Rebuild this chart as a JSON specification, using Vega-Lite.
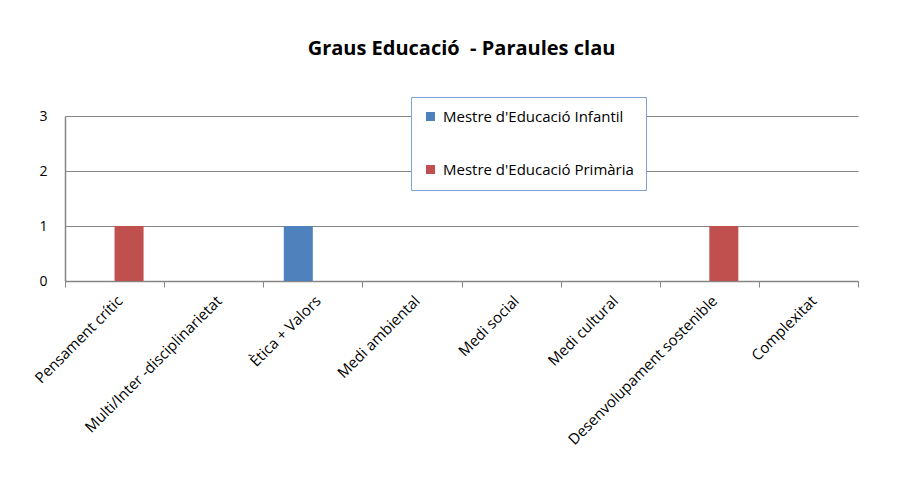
{
  "$schema": "https://vega.github.io/schema/vega-lite/v6.json",
  "width": 793,
  "height": 165,
  "autosize": {"type": "none"},
  "padding": {"left": 65, "top": 116, "right": 44, "bottom": 217},
  "background": "white",
  "title": {
    "text": "Graus Educació\u00a0 - Paraules clau",
    "font": "Open Sans",
    "fontSize": 20,
    "fontWeight": "bold",
    "color": "black",
    "anchor": "middle",
    "offset": 38
  },
  "config": {
    "view": {"stroke": null},
    "font": "Open Sans"
  },
  "data": {
    "values": [
      {"categoria": "Pensament crític", "grau": "Mestre d'Educació Infantil", "valor": 0},
      {"categoria": "Pensament crític", "grau": "Mestre d'Educació Primària", "valor": 1},
      {"categoria": "Multi/Inter -disciplinarietat", "grau": "Mestre d'Educació Infantil", "valor": 0},
      {"categoria": "Multi/Inter -disciplinarietat", "grau": "Mestre d'Educació Primària", "valor": 0},
      {"categoria": "Ètica + Valors", "grau": "Mestre d'Educació Infantil", "valor": 1},
      {"categoria": "Ètica + Valors", "grau": "Mestre d'Educació Primària", "valor": 0},
      {"categoria": "Medi ambiental", "grau": "Mestre d'Educació Infantil", "valor": 0},
      {"categoria": "Medi ambiental", "grau": "Mestre d'Educació Primària", "valor": 0},
      {"categoria": "Medi social", "grau": "Mestre d'Educació Infantil", "valor": 0},
      {"categoria": "Medi social", "grau": "Mestre d'Educació Primària", "valor": 0},
      {"categoria": "Medi cultural", "grau": "Mestre d'Educació Infantil", "valor": 0},
      {"categoria": "Medi cultural", "grau": "Mestre d'Educació Primària", "valor": 0},
      {"categoria": "Desenvolupament sostenible", "grau": "Mestre d'Educació Infantil", "valor": 0},
      {"categoria": "Desenvolupament sostenible", "grau": "Mestre d'Educació Primària", "valor": 1},
      {"categoria": "Complexitat", "grau": "Mestre d'Educació Infantil", "valor": 0},
      {"categoria": "Complexitat", "grau": "Mestre d'Educació Primària", "valor": 0}
    ]
  },
  "mark": {"type": "bar"},
  "encoding": {
    "x": {
      "field": "categoria",
      "type": "nominal",
      "sort": null,
      "scale": {"paddingInner": 0, "paddingOuter": 0},
      "axis": {
        "title": null,
        "labelAngle": -45,
        "labelFontSize": 15,
        "labelColor": "black",
        "labelPadding": 6,
        "labelLimit": 400,
        "tickBand": "extent",
        "tickColor": "#868686",
        "tickSize": 6,
        "domainColor": "#868686",
        "domainWidth": 1.5,
        "grid": false
      }
    },
    "xOffset": {
      "field": "grau",
      "type": "nominal",
      "scale": {"paddingInner": 0, "paddingOuter": 0.708}
    },
    "y": {
      "field": "valor",
      "type": "quantitative",
      "scale": {"domain": [0, 3], "nice": false},
      "axis": {
        "title": null,
        "values": [0, 1, 2, 3],
        "labelFontSize": 14,
        "labelColor": "black",
        "labelPadding": 18,
        "ticks": false,
        "domainColor": "#868686",
        "domainWidth": 1.5,
        "gridColor": "#868686",
        "gridWidth": 1
      }
    },
    "color": {
      "field": "grau",
      "type": "nominal",
      "scale": {"range": ["#4F81BD", "#C0504D"]},
      "legend": {
        "title": null,
        "orient": "none",
        "legendX": 346,
        "legendY": -19,
        "symbolType": "square",
        "symbolSize": 81,
        "symbolStrokeWidth": 0,
        "labelFontSize": 15,
        "labelColor": "black",
        "labelLimit": 400,
        "labelOffset": 5,
        "padding": 12,
        "rowPadding": 37,
        "strokeColor": "#7FA2D6",
        "fillColor": "white"
      }
    }
  }
}
